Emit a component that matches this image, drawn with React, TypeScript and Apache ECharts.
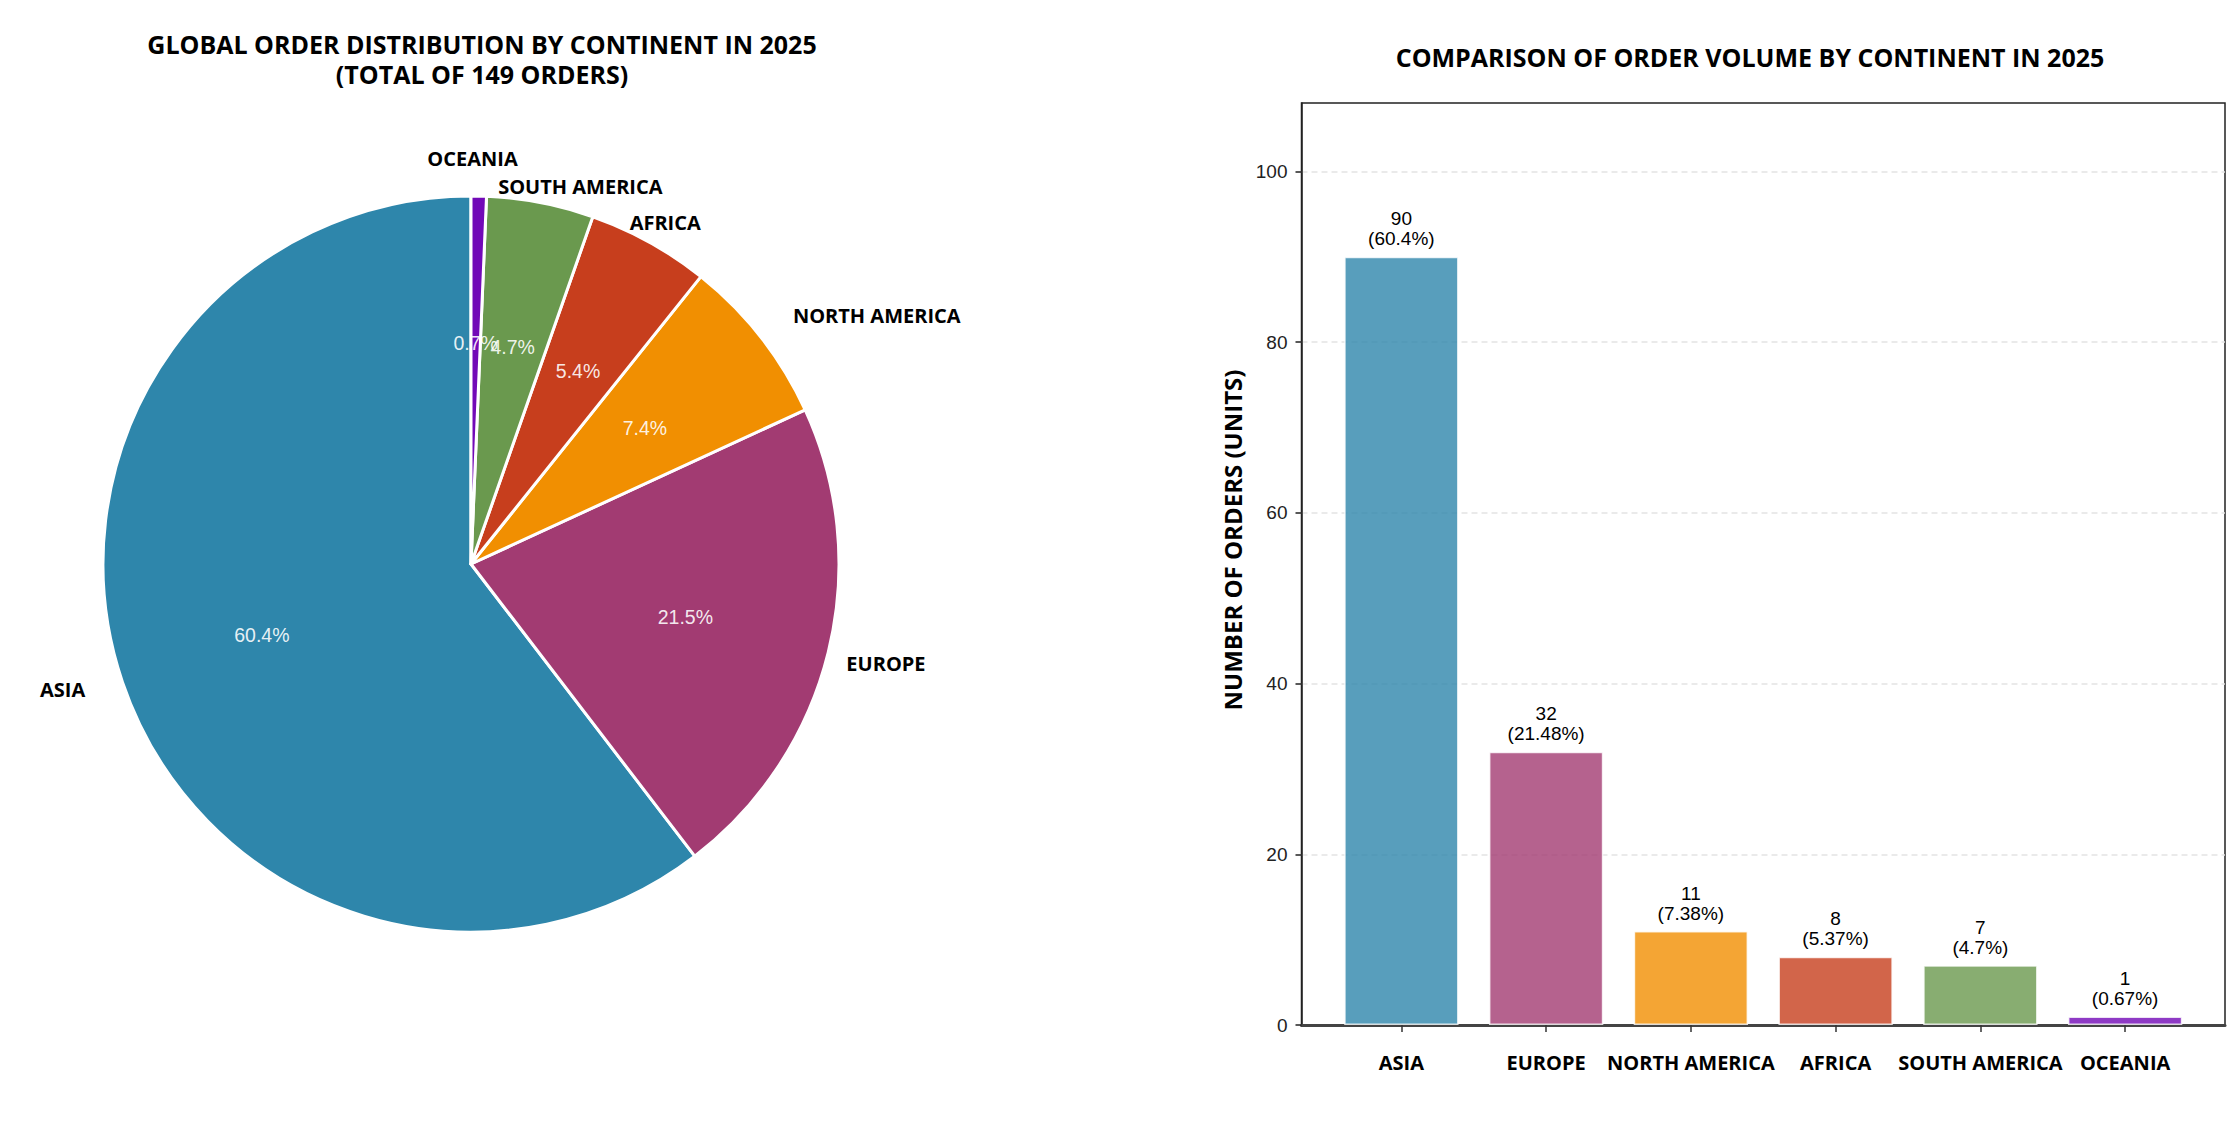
import React, { useEffect, useRef } from "react";
import * as echarts from "echarts";

// Orders per continent, 2025
const continents = ["ASIA", "EUROPE", "NORTH AMERICA", "AFRICA", "SOUTH AMERICA", "OCEANIA"];
const orders = [90, 32, 11, 8, 7, 1];
const sliceColors = ["#2E86AB", "#A23B72", "#F18F01", "#C73E1D", "#6A994E", "#7209B7"];
const yTicks = [0, 20, 40, 60, 80, 100];
const yMax = 108;

// Small nudges that keep the outer pie names clear of each other
const nameNudges: [number, number][] = [
  [-25, -4],
  [22, 2],
  [87, 1],
  [-2, 13],
  [33, 20],
  [-7, -1],
];

const total = orders.reduce((a, b) => a + b, 0);

// mid-point of every slice along the pie's value circle
const sliceMids: number[] = [];
{
  let acc = 0;
  for (const v of orders) {
    sliceMids.push(acc + v / 2);
    acc += v;
  }
}

const TITLE_FONT = "'Open Sans', 'Noto Sans', sans-serif";
const NUM_FONT = "'Liberation Sans', Arial, sans-serif";

const PIE_CX = 471;
const PIE_CY = 564;
const PIE_R = 368;
// the polar frame used for the pie's labels reaches past the pie's rim
const LABEL_REACH = 1.3;

export default function App() {
  const ref = useRef<HTMLDivElement>(null);

  useEffect(() => {
    if (!ref.current) return;
    const chart = echarts.init(ref.current, undefined, { renderer: "svg" });

    const pieData = continents.map((name, i) => ({
      name,
      value: orders[i],
      itemStyle: { color: sliceColors[i] },
    }));

    const frame = { left: 1301.5, top: 103, width: 923.5, height: 922 };
    const bandInset = 27.5;

    const hiddenMarker = {
      type: "scatter",
      coordinateSystem: "polar",
      symbol: "circle",
      symbolSize: 1,
      silent: true,
      clip: false,
      z: 5,
      itemStyle: { color: "rgba(0,0,0,0)", opacity: 1 },
      emphasis: { disabled: true },
    };

    chart.setOption({
      animation: false,
      backgroundColor: "#ffffff",
      title: [
        {
          text: `GLOBAL ORDER DISTRIBUTION BY CONTINENT IN 2025\n(TOTAL OF ${total} ORDERS)`,
          left: 482,
          top: 29,
          padding: 0,
          textAlign: "center",
          textStyle: {
            fontFamily: TITLE_FONT,
            fontWeight: "bold",
            fontSize: 25,
            lineHeight: 30,
            color: "#000",
          },
        },
        {
          text: "COMPARISON OF ORDER VOLUME BY CONTINENT IN 2025",
          left: 1750,
          top: 42,
          padding: 0,
          textAlign: "center",
          textStyle: {
            fontFamily: TITLE_FONT,
            fontWeight: "bold",
            fontSize: 25,
            lineHeight: 30,
            color: "#000",
          },
        },
      ],
      polar: { center: [PIE_CX, PIE_CY], radius: PIE_R * LABEL_REACH },
      angleAxis: {
        type: "value",
        min: 0,
        max: total,
        startAngle: 90,
        clockwise: false,
        show: false,
      },
      radiusAxis: { type: "value", min: 0, max: LABEL_REACH, show: false },
      grid: [
        { ...frame, show: true, borderColor: "#222", borderWidth: 1.5, backgroundColor: "transparent" },
        {
          left: frame.left + bandInset,
          top: frame.top,
          width: frame.width - 2 * bandInset,
          height: frame.height,
        },
      ],
      xAxis: [
        {
          gridIndex: 0,
          type: "value",
          min: 0,
          max: 1,
          axisLine: { show: true, lineStyle: { color: "#444", width: 3 } },
          axisTick: { show: false },
          axisLabel: { show: false },
          splitLine: { show: false },
        },
        {
          gridIndex: 1,
          type: "category",
          data: continents,
          axisLine: { show: false },
          axisTick: {
            show: true,
            alignWithLabel: true,
            length: 7,
            lineStyle: { color: "#333", width: 1.5 },
          },
          axisLabel: {
            margin: 27,
            fontFamily: TITLE_FONT,
            fontWeight: "bold",
            fontSize: 20,
            color: "#000",
            interval: 0,
          },
        },
      ],
      yAxis: [
        {
          gridIndex: 0,
          type: "value",
          min: 0,
          max: yMax,
          interval: 20,
          axisLine: { show: true, lineStyle: { color: "#222", width: 1.5 } },
          axisTick: {
            show: true,
            length: 6,
            customValues: yTicks,
            lineStyle: { color: "#222", width: 1.5 },
          },
          axisLabel: {
            customValues: yTicks,
            margin: 14,
            fontFamily: NUM_FONT,
            fontSize: 19,
            color: "#222",
            formatter: (v: number) => (v % 20 === 0 ? String(v) : ""),
          },
          splitLine: {
            show: true,
            lineStyle: { color: "#e3e3e3", width: 1.5, type: [6, 4] },
          },
        },
        {
          gridIndex: 1,
          type: "value",
          min: 0,
          max: yMax,
          show: false,
          splitLine: { show: false },
        },
      ],
      graphic: [
        {
          type: "text",
          x: 1232,
          y: 540,
          rotation: Math.PI / 2,
          style: {
            text: "NUMBER OF ORDERS (UNITS)",
            fontFamily: TITLE_FONT,
            fontWeight: "bold",
            fontSize: 24,
            fill: "#000",
            align: "center",
            verticalAlign: "middle",
          },
        },
      ],
      series: [
        {
          type: "bar",
          xAxisIndex: 1,
          yAxisIndex: 1,
          barWidth: "79%",
          data: orders.map((v, i) => ({
            value: v,
            itemStyle: {
              color: sliceColors[i],
              opacity: 0.8,
              borderColor: "#ffffff",
              borderWidth: 1.5,
            },
          })),
          label: {
            show: true,
            position: "top",
            distance: 8,
            fontFamily: NUM_FONT,
            fontSize: 19,
            lineHeight: 20,
            color: "#000",
            opacity: 1,
            align: "center",
            formatter: (p: any) =>
              `${p.value}\n(${parseFloat(((p.value / total) * 100).toFixed(2))}%)`,
          },
        },
        {
          type: "pie",
          center: [PIE_CX, PIE_CY],
          radius: [0, PIE_R],
          startAngle: 90,
          clockwise: false,
          avoidLabelOverlap: false,
          label: { show: false },
          labelLine: { show: false },
          itemStyle: { borderColor: "#ffffff", borderWidth: 3 },
          emphasis: { disabled: true },
          data: pieData,
        },
        {
          // percentage labels at 0.6 of the radius
          ...hiddenMarker,
          data: sliceMids.map((m) => [0.6, m]),
          label: {
            show: true,
            position: "inside",
            fontFamily: NUM_FONT,
            fontSize: 19.5,
            color: "rgba(255,255,255,0.9)",
            formatter: (p: any) => `${((orders[p.dataIndex] / total) * 100).toFixed(1)}%`,
          },
        },
        {
          // continent names at 1.1 of the radius
          ...hiddenMarker,
          data: sliceMids.map((m) => [1.1, m]),
          label: {
            show: true,
            position: "inside",
            fontFamily: TITLE_FONT,
            fontWeight: "bold",
            fontSize: 20,
            color: "#000",
            formatter: (p: any) => continents[p.dataIndex],
          },
          labelLayout: (p: any) => ({
            dx: nameNudges[p.dataIndex][0],
            dy: nameNudges[p.dataIndex][1],
          }),
        },
      ],
    });

    return () => chart.dispose();
  }, []);

  return (
    <div
      ref={ref}
      style={{ position: "fixed", left: 0, top: 0, width: "2239px", height: "1137px", background: "#fff" }}
    />
  );
}
